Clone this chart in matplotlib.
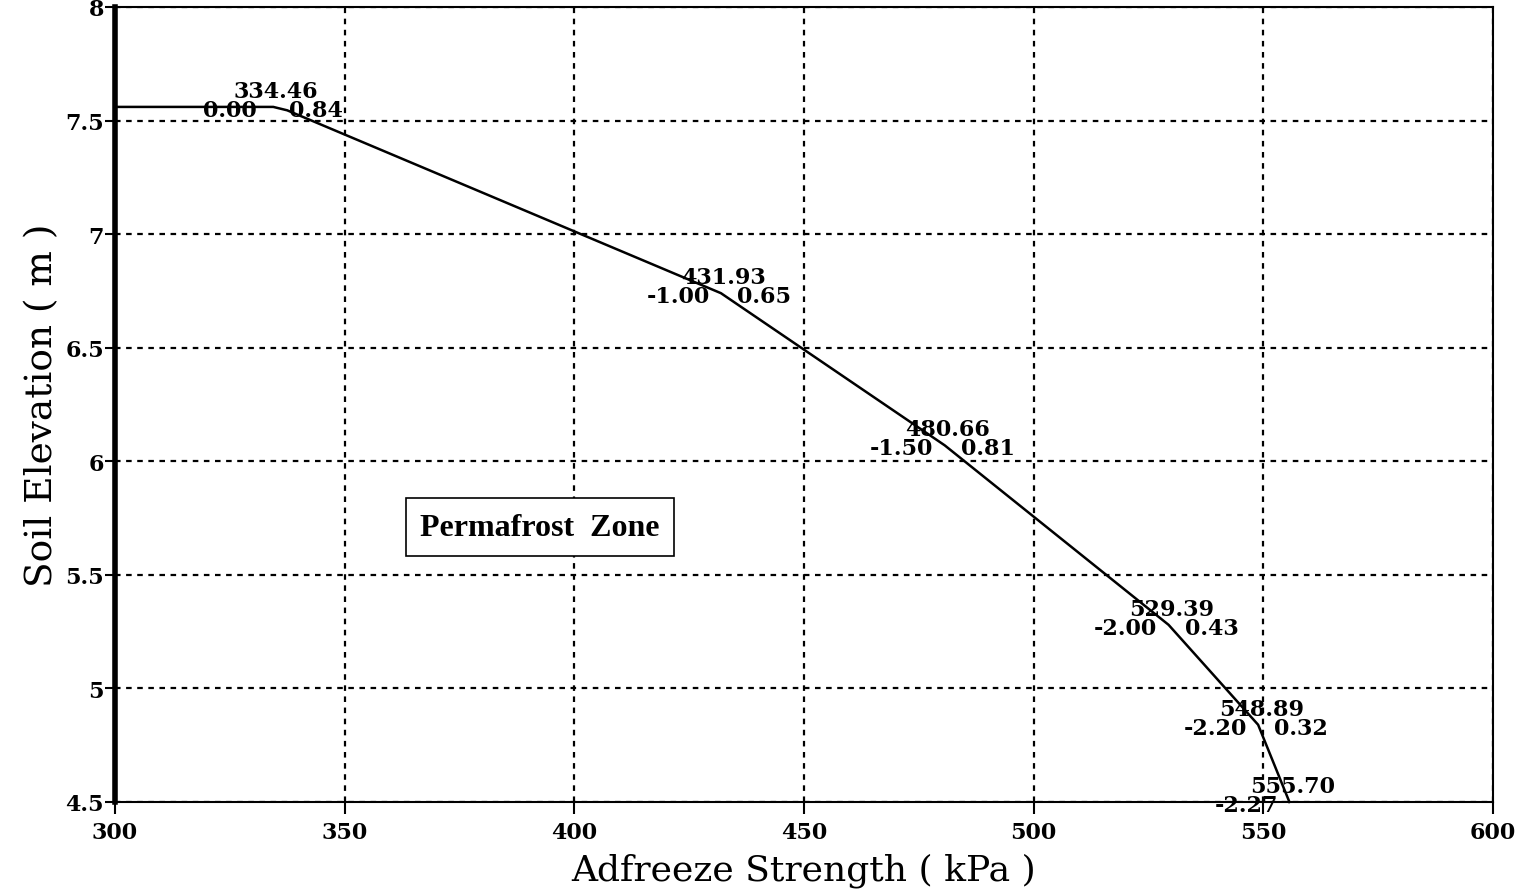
import matplotlib
matplotlib.use("Agg")
import matplotlib.pyplot as plt

# ---- data ----
strength = [300.0, 334.46, 337.5, 431.93, 480.66, 529.39, 548.89, 555.70]
elevation = [7.56, 7.56, 7.545, 6.74, 6.07, 5.28, 4.84, 4.50]

label_x = [334.46, 431.93, 480.66, 529.39, 548.89, 555.70]
label_y = [7.56, 6.74, 6.07, 5.28, 4.84, 4.50]
label_top = ["334.46", "431.93", "480.66", "529.39", "548.89", "555.70"]
label_left = ["0.00", "-1.00", "-1.50", "-2.00", "-2.20", "-2.27"]
label_right = ["0.84", "0.65", "0.81", "0.43", "0.32", ""]

x_ticks = [300, 350, 400, 450, 500, 550, 600]
y_ticks = [4.5, 5, 5.5, 6, 6.5, 7, 7.5, 8]
y_ticklabels = ["4.5", "5", "5.5", "6", "6.5", "7", "7.5", "8"]

zone_text = "Permafrost  Zone"
zone_pos = (392.5, 5.71)

fig = plt.figure(figsize=(15.19, 8.95), dpi=100)
ax = fig.add_axes([0.0757, 0.1028, 0.9071, 0.8883])

ax.set_xlim(300, 600)
ax.set_ylim(4.5, 8)
ax.set_xticks(x_ticks)
ax.set_yticks(y_ticks)
ax.set_xticklabels([str(t) for t in x_ticks], fontfamily="DejaVu Serif",
                   fontweight="bold", fontsize=16)
ax.set_yticklabels(y_ticklabels, fontfamily="DejaVu Serif",
                   fontweight="bold", fontsize=16)
ax.tick_params(axis="x", direction="out", length=8.5, width=1.5, color="black", pad=5)
ax.tick_params(axis="y", direction="out", length=7, width=1.5, color="black", pad=1)

ax.grid(True, color="black", linestyle=(0, (2.5, 2.5)), linewidth=1.6)
ax.set_axisbelow(True)

for side, sp in ax.spines.items():
    sp.set_color("black")
    sp.set_linewidth(1.5)
ax.spines["left"].set_linewidth(4)

ax.plot(strength, elevation, color="black", linewidth=1.8, clip_on=False, zorder=3)

fs = 16
for x, y, t, l, r in zip(label_x, label_y, label_top, label_left, label_right):
    ax.annotate(t, (x, y), xytext=(3, 16), textcoords="offset pixels",
                ha="center", va="center", fontsize=fs, fontweight="bold",
                fontfamily="DejaVu Serif", zorder=4)
    ax.annotate(l, (x, y), xytext=(-43, -3), textcoords="offset pixels",
                ha="center", va="center", fontsize=fs, fontweight="bold",
                fontfamily="DejaVu Serif", zorder=4)
    if r:
        ax.annotate(r, (x, y), xytext=(43, -3), textcoords="offset pixels",
                    ha="center", va="center", fontsize=fs, fontweight="bold",
                    fontfamily="DejaVu Serif", zorder=4)

ax.text(zone_pos[0], zone_pos[1], zone_text, ha="center", va="center",
        fontsize=23, fontweight="bold", fontfamily="Liberation Serif",
        bbox=dict(boxstyle="square,pad=0.45", facecolor="white",
                  edgecolor="black", linewidth=1.2), zorder=5)

ax.set_xlabel("Adfreeze Strength ( kPa )", fontfamily="DejaVu Serif",
              fontsize=26, labelpad=7)
ax.set_ylabel("Soil Elevation ( m )", fontfamily="DejaVu Serif",
              fontsize=27, labelpad=4)

fig.savefig("out.png", dpi=100, facecolor="white")
